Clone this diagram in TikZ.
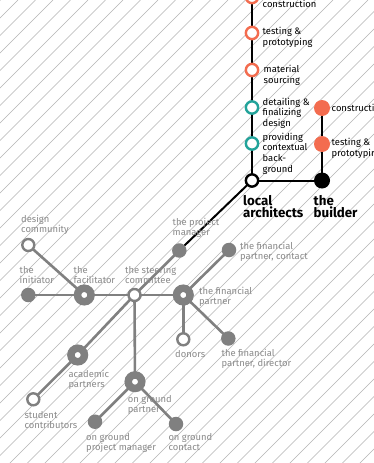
\documentclass[tikz,border=0pt]{standalone}
\usepackage{fontspec}
\setmainfont{Fira Sans}
\usetikzlibrary{backgrounds}
\definecolor{orng}{HTML}{F36C4F}
\definecolor{teal2}{HTML}{22A39A}
\definecolor{gry}{HTML}{808080}
\definecolor{gtxt}{HTML}{8A8A8A}
\definecolor{hatchc}{HTML}{B4B4B4}
\begin{document}
\begin{tikzpicture}[x=1pt,y=-1pt,
  hatch/.style={draw=hatchc,line width=0.6pt},
  blk/.style={draw=black,line width=2pt},
  gln/.style={draw=gry,line width=2.6pt},
  ohollow/.style={circle,draw=orng,line width=2.4pt,fill=white,minimum size=12.3pt,inner sep=0pt},
  thollow/.style={circle,draw=teal2,line width=2.4pt,fill=white,minimum size=12.3pt,inner sep=0pt},
  bhollow/.style={circle,draw=black,line width=2.4pt,fill=white,minimum size=12.3pt,inner sep=0pt},
  ofill/.style={circle,fill=orng,minimum size=16pt,inner sep=0pt},
  bfill/.style={circle,fill=black,minimum size=16pt,inner sep=0pt},
  gfill/.style={circle,fill=gry,minimum size=14.5pt,inner sep=0pt},
  ghollow/.style={circle,draw=gry,line width=2.4pt,fill=white,minimum size=12pt,inner sep=0pt},
  gring/.style={circle,draw=gry,line width=7.5pt,fill=white,minimum size=13.5pt,inner sep=0pt},
  blab/.style={anchor=base west,inner sep=0pt,align=left,font=\fontsize{9.4}{10.7}\selectfont,text=black},
  glab/.style={anchor=base west,inner sep=0pt,align=left,font=\fontsize{9.4}{10.3}\selectfont,text=gtxt},
  biglab/.style={anchor=base west,inner sep=0pt,align=left,font=\fontsize{13.3}{12}\selectfont\bfseries,text=black}
]
\useasboundingbox (0,0) rectangle (374,463);

% top column nodes
\coordinate (top) at (252,-20);
\node[ohollow] (c1) at (252,-3) {};
\node[ohollow] (c2) at (252,33) {};
\node[ohollow] (c3) at (252,70) {};
\node[thollow] (c4) at (252,107.5) {};
\node[thollow] (c5) at (252,143.5) {};
\node[bhollow] (la) at (252,180.5) {};
\node[bfill] (tb) at (322,180.5) {};
\node[ofill] (r1) at (322,108) {};
\node[ofill] (r2) at (322,144) {};

% gray nodes
\node[ghollow] (dc) at (28.3,245) {};
\node[gfill] (ini) at (28.3,295) {};
\node[gring] (fac) at (84.3,295) {};
\node[ghollow] (sc) at (134.5,295) {};
\node[gfill] (pm) at (179.3,250.5) {};
\node[gring] (fp) at (183.3,295) {};
\node[gfill] (fpc) at (229,250) {};
\node[ghollow] (don) at (183.3,339.3) {};
\node[gfill] (fpd) at (228.3,338.5) {};
\node[gring] (ap) at (77.7,355) {};
\node[ghollow] (stc) at (33.3,399.3) {};
\node[gring] (ogp) at (135,381.7) {};
\node[gfill] (ogpm) at (95,421.7) {};
\node[gfill] (ogc) at (176,424) {};

\begin{scope}[on background layer]
  \begin{scope}
    \clip (0,0) rectangle (374,463);
    \fill[white] (0,0) rectangle (374,463);
    \foreach \c in {0.5,18,...,860} {
      \draw[hatch] (\c,0) -- (\c-480,480);
    }
  \end{scope}
  \draw[blk] (top) -- (c1.center) -- (c2.center) -- (c3.center) -- (c4.center) -- (c5.center) -- (la.center);
  \draw[blk] (la.center) -- (tb.center);
  \draw[blk] (r1.center) -- (r2.center) -- (tb.center);
  \draw[blk] (la.center) -- (pm.center);
  \draw[gln] (pm.center) -- (sc.center);
  \draw[gln] (sc.center) -- (ap.center);
  \draw[gln] (ap.center) -- (stc.center);
  \draw[gln] (ini.center) -- (fac.center);
  \draw[gln] (fac.center) -- (sc.center);
  \draw[gln] (sc.center) -- (fp.center);
  \draw[gln] (dc.center) -- (fac.center);
  \draw[gln] (fp.center) -- (fpc.center);
  \draw[gln] (fp.center) -- (don.center);
  \draw[gln] (fp.center) -- (fpd.center);
  \draw[gln] (sc.center) -- (ogp.center);
  \draw[gln] (ogp.center) -- (ogpm.center);
  \draw[gln] (ogp.center) -- (ogc.center);
\end{scope}

% black labels (anchor = baseline of last line)
\node[blab] (lc1) at (262.5,8) {construction};
\node[blab] (lc2) at (262.5,45.2) {testing \&\\prototyping};
\node[blab] (lc3) at (263.5,83.2) {material\\sourcing};
\node[blab] (lc4) at (262.5,126.4) {detailing \&\\finalizing\\design};
\node[blab] (lc5) at (262.5,172.1) {providing\\contextual\\back-\\ground};
\node[blab] (lr1) at (331.5,111.5) {construction};
\node[blab] (lr2) at (331.5,156.2) {testing \&\\prototyping};
\node[biglab] (lla) at (243,217) {local\\architects};
\node[biglab] (ltb) at (313.5,217) {the\\builder};

% gray labels
\node[glab] (tdc) at (21,232.8) {design\\community};
\node[glab] (tini) at (19.5,283.8) {the\\initiator};
\node[glab] (tfac) at (73.5,283.8) {the\\facilitator};
\node[glab] (tsc) at (125,283.8) {the steering\\committee};
\node[glab] (tpm) at (172.5,235.8) {the project\\manager};
\node[glab] (tfpc) at (240,259.8) {the financial\\partner, contact};
\node[glab] (tfp) at (199,304.3) {the financial\\partner};
\node[glab] (tdon) at (175,357) {donors};
\node[glab] (tfpd) at (221.5,366.3) {the financial\\partner, director};
\node[glab] (tap) at (68.3,387.3) {academic\\partners};
\node[glab] (tstc) at (24.3,428.3) {student\\contributors};
\node[glab] (togp) at (127.7,412.3) {on ground\\partner};
\node[glab] (togpm) at (86,450.3) {on ground\\project manager};
\node[glab] (togc) at (168.3,450.3) {on ground\\contact};
\end{tikzpicture}
\end{document}
